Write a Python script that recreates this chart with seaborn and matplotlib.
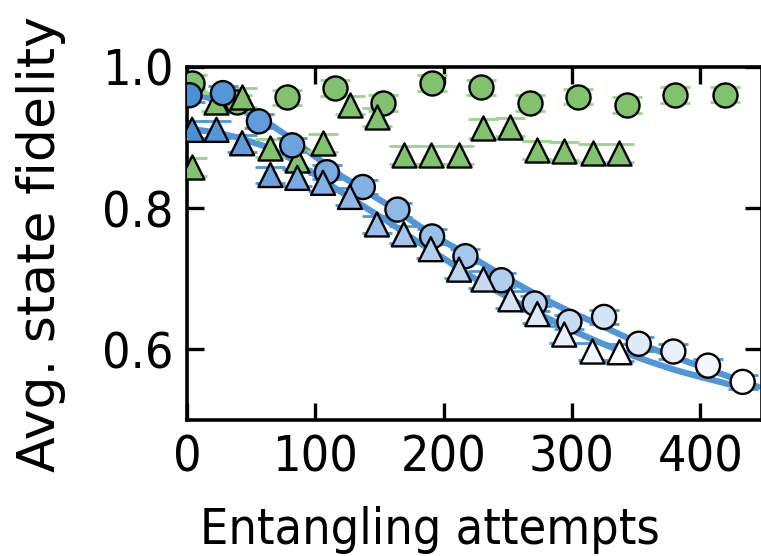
import matplotlib
matplotlib.use("Agg")
import matplotlib.pyplot as plt
import numpy as np
import seaborn as sns

# --- data -------------------------------------------------------------------
# blue circles (fit through them = upper curve)
blue_circ_x = [2, 28, 56, 82, 109, 137, 164, 191, 217, 245, 271, 298, 325, 352, 379, 406, 433]
blue_circ_y = [0.960, 0.963, 0.923, 0.889, 0.851, 0.830, 0.798, 0.760, 0.732, 0.698,
               0.665, 0.639, 0.646, 0.608, 0.597, 0.577, 0.554]
blue_circ_err = [0.010] * 17

# blue triangles (fit = lower curve)
blue_tri_x = [4, 23, 43, 65, 86, 106, 127, 148, 169, 190, 212, 231, 252, 273, 294, 316, 337]
blue_tri_y = [0.911, 0.911, 0.892, 0.847, 0.843, 0.836, 0.816, 0.777, 0.763, 0.742,
              0.713, 0.699, 0.671, 0.650, 0.621, 0.597, 0.596]
blue_tri_err = [0.012] * 17

# green circles
green_circ_x = [4, 39, 78, 115, 153, 191, 229, 267, 305, 343, 380, 419]
green_circ_y = [0.977, 0.950, 0.957, 0.970, 0.949, 0.977, 0.971, 0.949, 0.958, 0.946, 0.960, 0.961]
green_circ_err = [0.011] * 12

# green triangles
green_tri_x = [4, 23, 43, 65, 86, 106, 127, 148, 169, 190, 212, 231, 252, 273, 294, 316, 337]
green_tri_y = [0.858, 0.950, 0.957, 0.885, 0.868, 0.892, 0.946, 0.929, 0.875, 0.875,
               0.875, 0.913, 0.915, 0.882, 0.881, 0.878, 0.878]
green_tri_err = [0.013] * 17

# fitted curves
fit_up_x = [0, 20, 40, 60, 80, 100, 120, 140, 160, 180, 200, 220, 240, 260, 280, 300,
            320, 340, 360, 380, 400, 420, 445]
fit_up_y = [0.964, 0.955, 0.943, 0.925, 0.900, 0.873, 0.846, 0.823, 0.801, 0.776, 0.753,
            0.733, 0.711, 0.690, 0.670, 0.652, 0.636, 0.619, 0.603, 0.589, 0.576, 0.563, 0.547]
fit_lo_x = [0, 20, 40, 60, 80, 100, 120, 140, 160, 180, 200, 220, 240, 260, 280, 300,
            320, 340, 360, 380, 400, 426]
fit_lo_y = [0.913, 0.908, 0.900, 0.888, 0.871, 0.847, 0.823, 0.800, 0.777, 0.752, 0.729,
            0.705, 0.684, 0.664, 0.645, 0.627, 0.611, 0.596, 0.583, 0.571, 0.561, 0.549]

BLUE = "#4a8fd8"
BLUE_LINE = "#5096d8"
GREEN = "#80c26d"
GREEN_CAP = "#9ad48a"

sns.set_theme(style="ticks")
plt.rcParams["font.family"] = ["DejaVu Sans"]
plt.rcParams["text.color"] = "black"
plt.rcParams["axes.labelcolor"] = "black"

fig = plt.figure(figsize=(7.61, 5.56), dpi=100)
ax = fig.add_axes([0.2457, 0.2446, 0.7555, 0.6349])

# fit curves
sns.lineplot(x=fit_up_x, y=fit_up_y, color=BLUE_LINE, linewidth=4.5, ax=ax, zorder=1)
sns.lineplot(x=fit_lo_x, y=fit_lo_y, color=BLUE_LINE, linewidth=4.5, ax=ax, zorder=1)

# error bars (only the caps really show)
cap_kw = dict(fmt="none", elinewidth=1.8, capsize=11, capthick=2.0, zorder=2)
ax.errorbar(green_circ_x, green_circ_y, yerr=green_circ_err, ecolor=GREEN_CAP, **cap_kw)
ax.errorbar(green_tri_x, green_tri_y, yerr=green_tri_err, ecolor=GREEN_CAP, **cap_kw)
ax.errorbar(blue_circ_x, blue_circ_y, yerr=blue_circ_err, ecolor=BLUE_LINE, **cap_kw)
ax.errorbar(blue_tri_x, blue_tri_y, yerr=blue_tri_err, ecolor=BLUE_LINE, **cap_kw)

blue_cmap = sns.blend_palette([BLUE, "#ffffff"], as_cmap=True)

sns.scatterplot(x=green_circ_x, y=green_circ_y, color=GREEN, marker="o", s=300,
                edgecolor="black", linewidth=1.7, ax=ax, zorder=3)
sns.scatterplot(x=green_tri_x, y=green_tri_y, color=GREEN, marker="^", s=300,
                edgecolor="black", linewidth=1.7, ax=ax, zorder=4)
sns.scatterplot(x=blue_circ_x, y=blue_circ_y, hue=blue_circ_x, palette=blue_cmap,
                hue_norm=(min(blue_circ_x), max(blue_circ_x)), marker="o", s=300,
                edgecolor="black", linewidth=1.7, legend=False, ax=ax, zorder=5)
sns.scatterplot(x=blue_tri_x, y=blue_tri_y, hue=blue_tri_x, palette=blue_cmap,
                hue_norm=(min(blue_tri_x), max(blue_tri_x)), marker="^", s=300,
                edgecolor="black", linewidth=1.7, legend=False, ax=ax, zorder=6)

ax.set(xlim=(0, 448), ylim=(0.5, 1.0))
ax.set_xticks([0, 100, 200, 300, 400])
ax.set_yticks([0.6, 0.8, 1.0])
ax.set_yticklabels(["0.6", "0.8", "1.0"])
ax.tick_params(direction="in", length=12, width=2.4, top=True, right=True,
               labelsize=36, pad=10, colors="black")
for lab in ax.get_xticklabels() + ax.get_yticklabels():
    lab.set_fontstretch("condensed")
for sp in ax.spines.values():
    sp.set_linewidth(2.6)
    sp.set_color("black")

ax.set_xlabel("Entangling attempts", fontsize=36, fontstretch="condensed")
ax.set_ylabel("Avg. state fidelity", fontsize=37.5)
ax.xaxis.set_label_coords(0.423, -0.245)
ax.yaxis.set_label_coords(-0.21, 0.5)

fig.savefig("out.png", dpi=100)
